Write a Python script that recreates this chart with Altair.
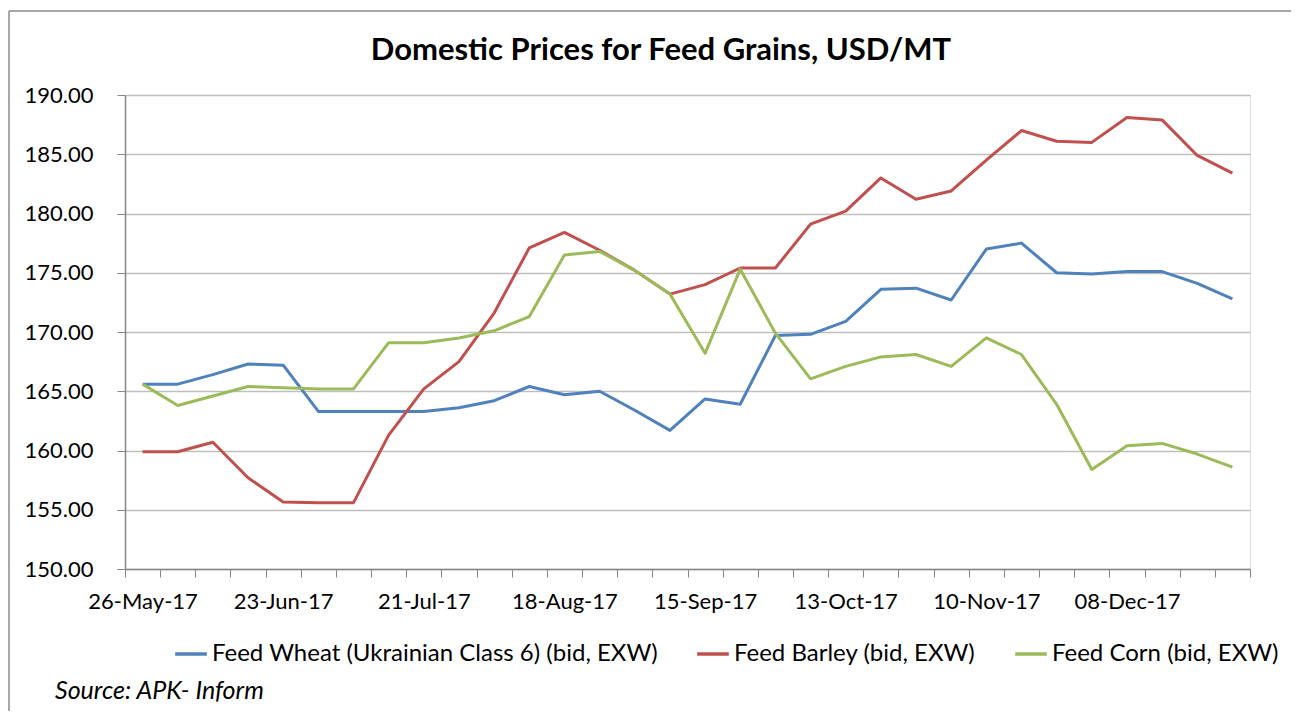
import json
import altair as alt
import pandas as pd

dates = ["26-May-17", "02-Jun-17", "09-Jun-17", "16-Jun-17", "23-Jun-17", "30-Jun-17",
         "07-Jul-17", "14-Jul-17", "21-Jul-17", "28-Jul-17", "04-Aug-17", "11-Aug-17",
         "18-Aug-17", "25-Aug-17", "01-Sep-17", "08-Sep-17", "15-Sep-17", "22-Sep-17",
         "29-Sep-17", "06-Oct-17", "13-Oct-17", "20-Oct-17", "27-Oct-17", "03-Nov-17",
         "10-Nov-17", "17-Nov-17", "24-Nov-17", "01-Dec-17", "08-Dec-17", "15-Dec-17",
         "22-Dec-17", "29-Dec-17"]

wheat = [165.6, 165.6, 166.4, 167.3, 167.2, 163.3, 163.3, 163.3, 163.3, 163.6, 164.2, 165.4,
         164.7, 165.0, 163.4, 161.7, 164.35, 163.9, 169.7, 169.8, 170.9, 173.6, 173.7, 172.7,
         177.0, 177.5, 175.0, 174.9, 175.1, 175.1, 174.1, 172.8]
barley = [159.9, 159.9, 160.7, 157.7, 155.65, 155.6, 155.6, 161.3, 165.2, 167.5, 171.6, 177.1,
          178.4, 176.9, 175.2, 173.2, 174.0, 175.4, 175.4, 179.1, 180.2, 183.0, 181.2, 181.9,
          184.5, 187.0, 186.1, 186.0, 188.1, 187.9, 184.9, 183.4]
corn = [165.6, 163.8, 164.6, 165.4, 165.3, 165.2, 165.2, 169.1, 169.1, 169.5, 170.1, 171.3,
        176.5, 176.8, 175.2, 173.2, 168.2, 175.3, 169.9, 166.05, 167.1, 167.9, 168.1, 167.1,
        169.5, 168.1, 163.9, 158.4, 160.4, 160.6, 159.7, 158.6]

series_names = ["Feed Wheat (Ukrainian Class 6) (bid, EXW)", "Feed Barley (bid, EXW)",
                "Feed Corn (bid, EXW)"]
series_colors = ["#4F81BD", "#C0504D", "#9BBB59"]
shown_labels = dates[::4]
y_ticks = [150, 155, 160, 165, 170, 175, 180, 185, 190]
title_text = "Domestic Prices for Feed Grains, USD/MT"
source_text = "Source: APK- Inform"

FONT = "Lato"
W, H = 1125, 474
PAD = {"left": 117, "top": 87, "right": 41, "bottom": 142}

rows = []
for name, vals in zip(series_names, [wheat, barley, corn]):
    for d, v in zip(dates, vals):
        rows.append({"date": d, "price": v, "series": name})
df = pd.DataFrame(rows)

label_expr = ("indexof(" + json.dumps(shown_labels) +
              ", datum.value) >= 0 ? datum.value : ''")

lines = alt.Chart(df).mark_line(strokeWidth=3, strokeJoin="round").encode(
    x=alt.X("date:N", sort=dates, bandPosition=0.5,
            scale=alt.Scale(type="band", paddingInner=0, paddingOuter=0),
            axis=alt.Axis(title=None, tickBand="extent", labelExpr=label_expr,
                          labelOverlap=False, labelAngle=0, ticks=True, tickSize=8,
                          tickColor="#868686", domainColor="#868686", domainWidth=1.5,
                          grid=False, labelFont=FONT, labelFontSize=22,
                          labelColor="#000000", labelPadding=14)),
    y=alt.Y("price:Q", scale=alt.Scale(domain=[150, 190], nice=False, zero=False),
            axis=alt.Axis(title=None, values=y_ticks, format=".2f", grid=True,
                          gridColor="#BEBEBE", gridWidth=1.5, tickSize=8,
                          tickColor="#868686", domainColor="#868686", domainWidth=1.5,
                          labelFont=FONT, labelFontSize=22, labelColor="#000000",
                          labelPadding=24)),
    color=alt.Color("series:N",
                    scale=alt.Scale(domain=series_names, range=series_colors),
                    legend=alt.Legend(title=None, orient="none", legendX=48, legendY=541,
                                      direction="horizontal", symbolType="stroke",
                                      symbolSize=1000, symbolStrokeWidth=3.5,
                                      labelFont=FONT, labelFontSize=24, labelLimit=0,
                                      labelColor="#000000", columnPadding=32,
                                      labelOffset=3, padding=0)),
)

one = pd.DataFrame({"t": [source_text], "title": [title_text]})

title = alt.Chart(one).mark_text(font=FONT, fontSize=31, fontWeight="bold",
                                 align="center", baseline="alphabetic",
                                 color="#000000").encode(
    text="title:N", x=alt.value(536), y=alt.value(-35))

source = alt.Chart(one).mark_text(font=FONT, fontSize=25, fontStyle="italic",
                                  align="left", baseline="alphabetic",
                                  color="#000000").encode(
    text="t:N", x=alt.value(-70), y=alt.value(604))

frame_top = alt.Chart(one).mark_rule(color="#8A8A8A", strokeWidth=1.5).encode(
    x=alt.value(-116), x2=alt.value(W + PAD["right"]), y=alt.value(-84))
frame_left = alt.Chart(one).mark_rule(color="#8A8A8A", strokeWidth=1.5).encode(
    x=alt.value(-116), y=alt.value(-84), y2=alt.value(H + PAD["bottom"]))

chart = alt.layer(lines, title, source, frame_top, frame_left).properties(
    width=W, height=H,
    autosize=alt.AutoSizeParams(type="none"),
    padding=PAD,
).configure_view(stroke=None).configure(background="white")

chart.save("out.html", embed_options={"renderer": "svg", "actions": False})
